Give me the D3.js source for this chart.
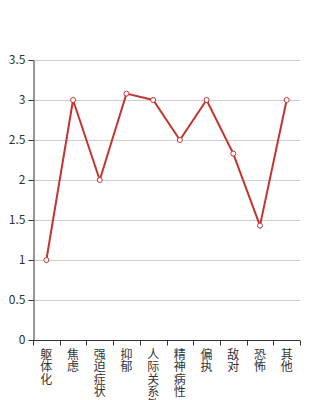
<!DOCTYPE html>
<html lang="zh">
<head>
<meta charset="UTF-8">
<script src="https://d3js.org/d3.v7.min.js"></script>
<style>
    body { margin: 0; background: #fff; }
    svg * { font-family: 'Noto Sans CJK SC', 'DejaVu Sans', sans-serif; }
</style>
</head>
<body>
<svg></svg>
<script>
    const categories = ['躯体化', '焦虑', '强迫症状', '抑郁', '人际关系敏感', '精神病性', '偏执', '敌对', '恐怖', '其他'];
    const values = [1, 3, 2, 3.08, 3, 2.5, 3, 2.33, 1.43, 3];
    const yTicks = [0, 0.5, 1, 1.5, 2, 2.5, 3, 3.5];

    const width = 334, height = 400;
    const margin = {top: 60, right: 34, bottom: 60, left: 33};

    const svg = d3.select("svg").attr("width", width).attr("height", height);

    const x = d3.scaleBand().domain(categories).range([margin.left, width - margin.right]);
    const y = d3.scaleLinear().domain([0, 3.5]).range([height - margin.bottom, margin.top]);

    // grid
    svg.append("g").selectAll("line").data(yTicks.slice(1)).join("line")
        .attr("x1", margin.left).attr("x2", width - margin.right)
        .attr("y1", d => y(d) + 0.5).attr("y2", d => y(d) + 0.5)
        .attr("stroke", "#ccc");

    // y axis
    const yAxis = svg.append("g")
        .attr("transform", `translate(${margin.left + 0.5},0)`)
        .call(d3.axisLeft(y).tickValues(yTicks).tickSize(5).tickSizeOuter(0).tickFormat(d => d));
    yAxis.selectAll("path, line").attr("stroke", "#333");
    yAxis.selectAll("text").attr("fill", "#333").attr("font-size", "12px")
        .attr("font-family", "'Liberation Sans', sans-serif");

    // x axis
    const xAxis = svg.append("g")
        .attr("transform", `translate(0,${height - margin.bottom + 0.5})`);
    xAxis.append("line")
        .attr("x1", margin.left).attr("x2", width - margin.right)
        .attr("stroke", "#333");
    const bounds = categories.map(c => x(c)).concat([x.range()[1]]);
    xAxis.selectAll("line.tick").data(bounds).join("line")
        .attr("class", "tick")
        .attr("x1", d => Math.round(d) + 0.5).attr("x2", d => Math.round(d) + 0.5)
        .attr("y1", 0).attr("y2", 5)
        .attr("stroke", "#333");

    const labels = xAxis.selectAll("text").data(categories).join("text")
        .attr("fill", "#333").attr("font-size", "12px")
        .attr("text-anchor", "middle");
    labels.each(function(d) {
        const t = d3.select(this);
        const cx = x(d) + x.bandwidth() / 2;
        d.split('').forEach((ch, i) => {
            t.append("tspan").attr("x", cx).attr("y", 18 + i * 12.5).text(ch);
        });
    });

    // line
    const cxOf = (d, i) => x(categories[i]) + x.bandwidth() / 2;
    svg.append("path")
        .datum(values)
        .attr("fill", "none")
        .attr("stroke", "#c23531")
        .attr("stroke-width", 2)
        .attr("d", d3.line().x(cxOf).y(d => y(d)));

    svg.append("g").selectAll("circle").data(values).join("circle")
        .attr("cx", cxOf).attr("cy", d => y(d))
        .attr("r", 2.5)
        .attr("fill", "#fff")
        .attr("stroke", "#c23531")
        .attr("stroke-width", 1);
</script>
</body>
</html>
